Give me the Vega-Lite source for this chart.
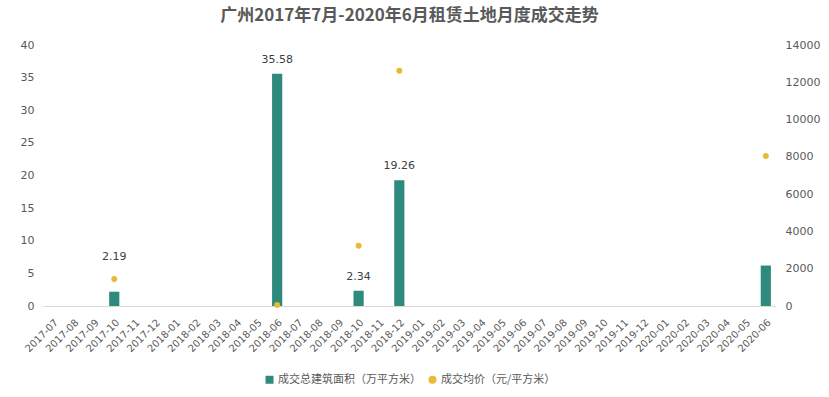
{
  "$schema": "https://vega.github.io/schema/vega-lite/v6.json",
  "width": 733,
  "height": 261,
  "autosize": {"type": "none"},
  "padding": {"left": 43, "top": 45, "right": 53, "bottom": 91},
  "background": "white",
  "config": {
    "view": {"stroke": null},
    "font": "Noto Sans CJK SC",
    "axis": {"labelColor": "#595959", "labelFont": "DejaVu Sans", "grid": false, "ticks": false, "domain": false},
    "legend": {"layout": {"bottom": {"anchor": "middle"}}}
  },
  "title": {
    "text": "广州2017年7月-2020年6月租赁土地月度成交走势",
    "fontSize": 17,
    "fontWeight": "bold",
    "color": "#595959",
    "font": "Noto Sans CJK SC",
    "anchor": "middle",
    "offset": 14
  },
  "data": {
    "values": [
      {"month": "2017-07", "area": null, "price": null, "label": null},
      {"month": "2017-08", "area": null, "price": null, "label": null},
      {"month": "2017-09", "area": null, "price": null, "label": null},
      {"month": "2017-10", "area": 2.19, "price": 1450, "label": "2.19"},
      {"month": "2017-11", "area": null, "price": null, "label": null},
      {"month": "2017-12", "area": null, "price": null, "label": null},
      {"month": "2018-01", "area": null, "price": null, "label": null},
      {"month": "2018-02", "area": null, "price": null, "label": null},
      {"month": "2018-03", "area": null, "price": null, "label": null},
      {"month": "2018-04", "area": null, "price": null, "label": null},
      {"month": "2018-05", "area": null, "price": null, "label": null},
      {"month": "2018-06", "area": 35.58, "price": 60, "label": "35.58"},
      {"month": "2018-07", "area": null, "price": null, "label": null},
      {"month": "2018-08", "area": null, "price": null, "label": null},
      {"month": "2018-09", "area": null, "price": null, "label": null},
      {"month": "2018-10", "area": 2.34, "price": 3230, "label": "2.34"},
      {"month": "2018-11", "area": null, "price": null, "label": null},
      {"month": "2018-12", "area": 19.26, "price": 12620, "label": "19.26"},
      {"month": "2019-01", "area": null, "price": null, "label": null},
      {"month": "2019-02", "area": null, "price": null, "label": null},
      {"month": "2019-03", "area": null, "price": null, "label": null},
      {"month": "2019-04", "area": null, "price": null, "label": null},
      {"month": "2019-05", "area": null, "price": null, "label": null},
      {"month": "2019-06", "area": null, "price": null, "label": null},
      {"month": "2019-07", "area": null, "price": null, "label": null},
      {"month": "2019-08", "area": null, "price": null, "label": null},
      {"month": "2019-09", "area": null, "price": null, "label": null},
      {"month": "2019-10", "area": null, "price": null, "label": null},
      {"month": "2019-11", "area": null, "price": null, "label": null},
      {"month": "2019-12", "area": null, "price": null, "label": null},
      {"month": "2020-01", "area": null, "price": null, "label": null},
      {"month": "2020-02", "area": null, "price": null, "label": null},
      {"month": "2020-03", "area": null, "price": null, "label": null},
      {"month": "2020-04", "area": null, "price": null, "label": null},
      {"month": "2020-05", "area": null, "price": null, "label": null},
      {"month": "2020-06", "area": 6.2, "price": 8050, "label": null}
    ]
  },
  "encoding": {
    "x": {
      "field": "month",
      "type": "ordinal",
      "sort": null,
      "scale": {
        "domain": ["2017-07","2017-08","2017-09","2017-10","2017-11","2017-12","2018-01","2018-02","2018-03","2018-04","2018-05","2018-06","2018-07","2018-08","2018-09","2018-10","2018-11","2018-12","2019-01","2019-02","2019-03","2019-04","2019-05","2019-06","2019-07","2019-08","2019-09","2019-10","2019-11","2019-12","2020-01","2020-02","2020-03","2020-04","2020-05","2020-06"],
        "paddingInner": 0.5,
        "paddingOuter": 0.25
      },
      "axis": {
        "title": null,
        "labelAngle": -45,
        "labelFontSize": 10,
        "domain": true,
        "domainColor": "#d9d9d9",
        "labelPadding": 11
      }
    }
  },
  "layer": [
    {
      "layer": [
        {
          "mark": {"type": "bar"},
          "encoding": {
            "y": {
              "field": "area",
              "type": "quantitative",
              "scale": {"domain": [0, 40], "nice": false},
              "axis": {"title": null, "values": [0, 5, 10, 15, 20, 25, 30, 35, 40], "labelFontSize": 11, "labelPadding": 9}
            },
            "color": {
              "datum": "成交总建筑面积（万平方米）",
              "scale": {
                "domain": ["成交总建筑面积（万平方米）", "成交均价（元/平方米）"],
                "range": ["#2e8a7c", "#e9b937"]
              },
              "legend": {
                "title": null,
                "orient": "bottom",
                "direction": "horizontal",
                "labelFontSize": 11,
                "labelColor": "#595959",
                "labelFont": "Noto Sans CJK SC",
                "symbolSize": 64,
                "columnPadding": 6,
                "labelOffset": 3,
                "offset": 20,
                "encode": {
                  "symbols": {
                    "update": {
                      "shape": {"signal": "datum.value === '成交均价（元/平方米）' ? 'circle' : 'square'"},
                      "strokeWidth": {"value": 0}
                    }
                  }
                }
              }
            }
          }
        },
        {
          "transform": [{"filter": "datum.label != null && datum.month !== '2017-10'"}],
          "mark": {"type": "text", "dy": -9, "fontSize": 11, "color": "#404040", "font": "DejaVu Sans", "baseline": "bottom"},
          "encoding": {
            "y": {"field": "area", "type": "quantitative", "axis": {"title": null, "values": [0, 5, 10, 15, 20, 25, 30, 35, 40], "labelFontSize": 11, "labelPadding": 9}},
            "text": {"field": "label"}
          }
        },
        {
          "transform": [{"filter": "datum.month === '2017-10'"}],
          "mark": {"type": "text", "dy": -30, "fontSize": 11, "color": "#404040", "font": "DejaVu Sans", "baseline": "bottom"},
          "encoding": {
            "y": {"field": "area", "type": "quantitative", "axis": {"title": null, "values": [0, 5, 10, 15, 20, 25, 30, 35, 40], "labelFontSize": 11, "labelPadding": 9}},
            "text": {"field": "label"}
          }
        }
      ]
    },
    {
      "mark": {"type": "point", "filled": true, "size": 36, "opacity": 1},
      "encoding": {
        "y": {
          "field": "price",
          "type": "quantitative",
          "scale": {"domain": [0, 14000], "nice": false},
          "axis": {"title": null, "orient": "right", "format": "d", "values": [0, 2000, 4000, 6000, 8000, 10000, 12000, 14000], "labelFontSize": 11, "labelPadding": 9}
        },
        "color": {"datum": "成交均价（元/平方米）"}
      }
    }
  ],
  "resolve": {"scale": {"y": "independent"}}
}
